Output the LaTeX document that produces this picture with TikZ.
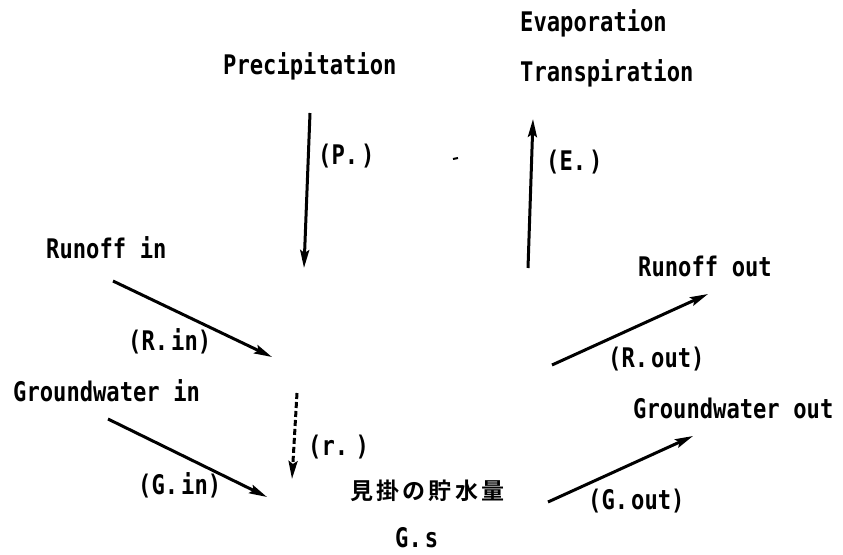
\documentclass[tikz,border=0pt]{standalone}
\usepackage{fontspec}
\usetikzlibrary{arrows.meta}
\newfontfamily\lblfont[FakeStretch=0.82]{DejaVu Sans Mono Bold}
\newfontfamily\parfont[FakeStretch=0.82]{DejaVu Sans Mono Bold}
\newfontfamily\cjkfont[LetterSpace=14]{Noto Sans CJK JP Bold}
\newcommand\lblsel{\lblfont\fontsize{27}{30}\selectfont\fontdimen2\font=13.6pt\fontdimen3\font=0pt\fontdimen4\font=0pt}
\newcommand\parsel{\parfont\fontsize{27}{30}\selectfont\fontdimen2\font=3pt\fontdimen3\font=0pt\fontdimen4\font=0pt}
\tikzset{
  lbl/.style={inner sep=0pt, anchor=base west, font=\lblsel},
  par/.style={inner sep=0pt, anchor=base west, font=\parsel},
  jp/.style={inner sep=0pt, anchor=base west, font=\cjkfont\fontsize{23}{26}\selectfont},
  flow/.style={line width=3pt, -{Stealth[length=18pt,width=9pt,inset=3pt]}},
  seep/.style={flow, dash pattern=on 6pt off 3pt}
}
\begin{document}
\begin{tikzpicture}[x=1pt,y=-1pt]
\useasboundingbox (0,0) rectangle (843,554);
% labels
\node[lbl] (prec) at (223,74) {Precipitation};
\node[lbl] (evap) at (520,31) {Evaporation};
\node[lbl] (trans) at (520,81) {Transpiration};
\node[lbl] (rin) at (46,258) {Runoff in};
\node[lbl] (rout) at (638,276) {Runoff out};
\node[lbl] (gin) at (13,401) {Groundwater in};
\node[lbl] (gout) at (633,418) {Groundwater out};
\node[par] (lp) at (318,164) {(P. )};
\node[par] (le) at (546,170) {(E. )};
\node[par] (lrin) at (128,350) {(R. in)};
\node[par] (lrout) at (608,367) {(R. out)};
\node[par] (lr) at (308,455) {(r. )};
\node[par] (lgin) at (138,494) {(G. in)};
\node[par] (lgout) at (588,509) {(G. out)};
\node[jp] (stor) at (350,499) {見掛の貯水量};
\node[par] (gs) at (395,547) {G. s};
% arrow end points
\coordinate (p1) at (310,113); \coordinate (p2) at (304,268);
\coordinate (e1) at (528,268); \coordinate (e2) at (533,119);
\coordinate (r1) at (297,393); \coordinate (r2) at (292,479);
\coordinate (ri1) at (113,281); \coordinate (ri2) at (272,357);
\coordinate (gi1) at (108,419); \coordinate (gi2) at (267,497);
\coordinate (ro1) at (552,365); \coordinate (ro2) at (708,294);
\coordinate (go1) at (548,502); \coordinate (go2) at (693,436);
\draw[flow] (p1) -- (p2);
\draw[flow] (e1) -- (e2);
\draw[seep] (r1) -- (r2);
\draw[flow] (ri1) -- (ri2);
\draw[flow] (gi1) -- (gi2);
\draw[flow] (ro1) -- (ro2);
\draw[flow] (go1) -- (go2);
% small mark
\coordinate (m1) at (453,159); \coordinate (m2) at (458,158);
\draw[line width=2pt] (m1) -- (m2);
\end{tikzpicture}
\end{document}
